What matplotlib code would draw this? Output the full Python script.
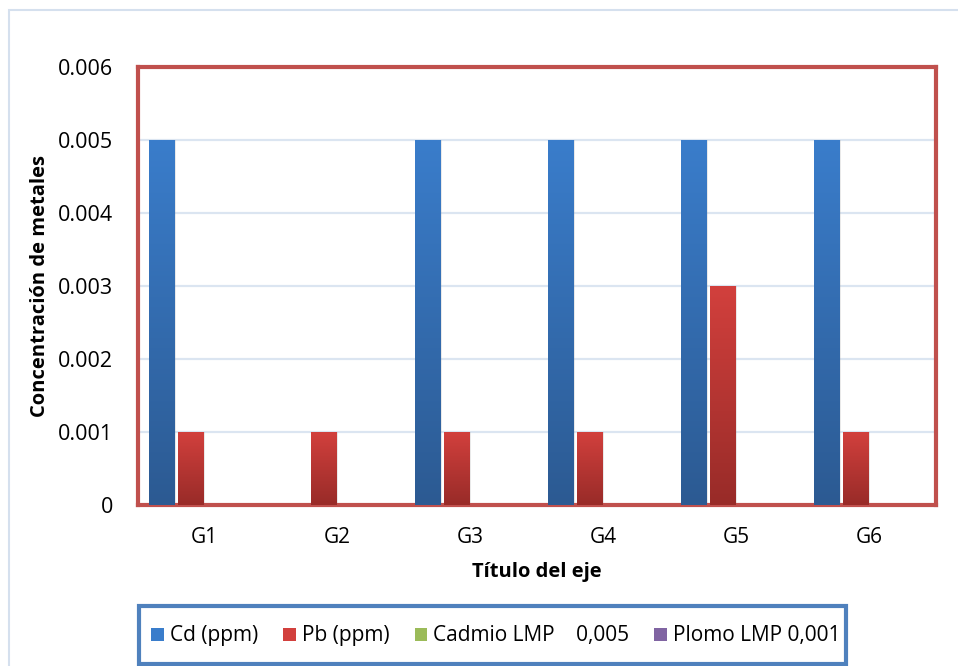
import numpy as np
import matplotlib
matplotlib.use("Agg")
import matplotlib.pyplot as plt
from matplotlib.patches import Patch, Rectangle
from matplotlib.colors import LinearSegmentedColormap

plt.rcParams['font.family'] = ['Open Sans', 'DejaVu Sans']

grupos = ["G1", "G2", "G3", "G4", "G5", "G6"]
cd_ppm = [0.005, 0, 0.005, 0.005, 0.005, 0.005]
pb_ppm = [0.001, 0.001, 0.001, 0.001, 0.003, 0.001]
cadmio_lmp = [0, 0, 0, 0, 0, 0]
plomo_lmp = [0, 0, 0, 0, 0, 0]
series = [cd_ppm, pb_ppm, cadmio_lmp, plomo_lmp]
nombres = ["Cd (ppm)", "Pb (ppm)", "Cadmio LMP    0,005", "Plomo LMP 0,001"]
# colores arriba / abajo del degradado
colores = [("#3a7dcb", "#2c5a92"), ("#d2403d", "#982b28"),
           ("#9bbb59", "#76923c"), ("#8064a2", "#5f4a7a")]
yticks = [0, 0.001, 0.002, 0.003, 0.004, 0.005, 0.006]
ytick_labels = ["0", "0.001", "0.002", "0.003", "0.004", "0.005", "0.006"]

W, H = 958, 666
fig = plt.figure(figsize=(W / 100, H / 100), dpi=100)
fig.patch.set_facecolor("white")

# borde exterior del grafico
fig.patches.append(Rectangle((9 / W, -0.1), 1.2, 1 - 10 / H + 0.1, transform=fig.transFigure,
                             fill=False, edgecolor="#d5e0ee", linewidth=1.5))

ax = fig.add_axes([138 / W, (H - 505) / H, 798 / W, 438 / H])
x = np.arange(len(grupos))
paso = 0.214
ancho = 0.19

for i, vals in enumerate(series):
    pos = x + (i - 1.5) * paso
    # sombra
    ax.bar(pos + 0.012, vals, ancho, color="#888888", alpha=0.18, zorder=2, linewidth=0)
    barras = ax.bar(pos, vals, ancho, color="none", linewidth=0, zorder=3)
    cmap = LinearSegmentedColormap.from_list("g%d" % i, [colores[i][1], colores[i][0]])
    for b in barras:
        h = b.get_height()
        if h <= 0:
            continue
        x0 = b.get_x()
        grad = np.linspace(0, 1, 256).reshape(-1, 1)
        im = ax.imshow(grad, extent=[x0, x0 + b.get_width(), 0, h], origin="lower",
                       aspect="auto", cmap=cmap, zorder=3)
        im.set_clip_path(b)

ax.set_xlim(-0.5, len(grupos) - 0.5)
ax.set_ylim(0, 0.006)
ax.set_yticks(yticks)
ax.set_yticklabels(ytick_labels, fontsize=15.5)
ax.set_xticks(x)
ax.set_xticklabels(grupos, fontsize=15)
ax.tick_params(axis="both", length=0)
ax.tick_params(axis="y", pad=18)
ax.tick_params(axis="x", pad=16)
ax.grid(axis="y", color="#dbe5f1", linewidth=1.6, zorder=1)
ax.set_axisbelow(True)
for s in ax.spines.values():
    s.set_color("#c0504d")
    s.set_linewidth(3)

ax.set_xlabel("Título del eje", fontsize=14.5, fontweight="bold", labelpad=10)
ax.set_ylabel("Concentración de metales", fontsize=14.5, fontweight="bold", labelpad=6)

# leyenda
fig.patches.append(Rectangle((139 / W, 2 / H), 707 / W, 58 / H, transform=fig.transFigure,
                             fill=False, edgecolor="#4f81bd", linewidth=3))
handles = [Patch(facecolor=c[0], edgecolor="none") for c in colores]
fig.legend(handles, nombres, loc="center", bbox_to_anchor=(496 / W, 30 / H), ncol=4,
           frameon=False, fontsize=15, handlelength=0.6, handleheight=0.6,
           handletextpad=0.3, columnspacing=1.2)

fig.savefig("out.png", dpi=100)
